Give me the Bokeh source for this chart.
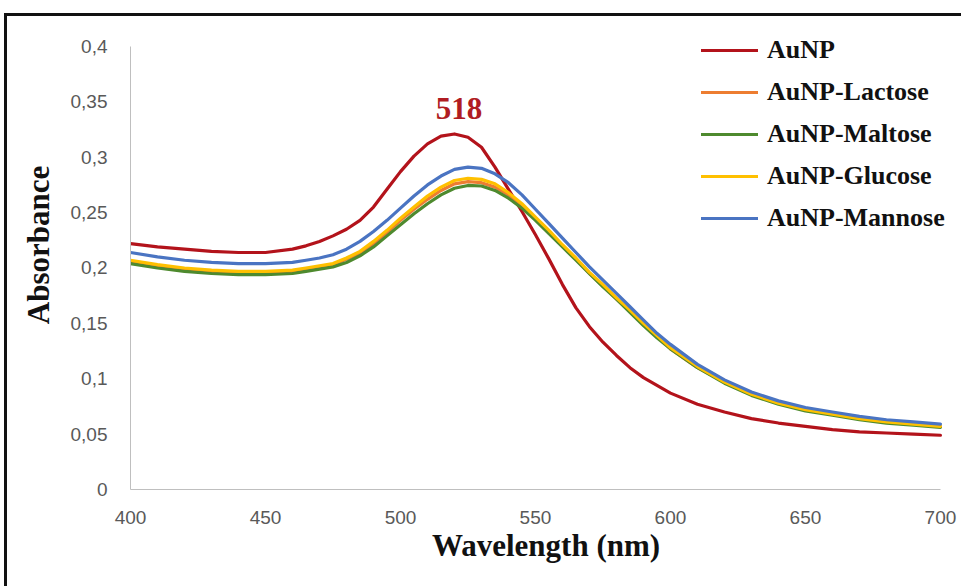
from bokeh.plotting import figure
from bokeh.models import Range1d, FixedTicker, Legend, LegendItem, Label
from bokeh.embed import file_html
from bokeh.resources import INLINE

# ---- data ----
wavelength = [400, 410, 420, 430, 440, 450, 460, 465, 470, 475, 480, 485, 490, 495, 500,
              505, 510, 515, 520, 525, 530, 535, 540, 545, 550, 555, 560, 565, 570, 575,
              580, 585, 590, 595, 600, 610, 620, 630, 640, 650, 660, 670, 680, 690, 700]

aunp = [0.222, 0.219, 0.217, 0.215, 0.214, 0.214, 0.217, 0.220, 0.224, 0.229, 0.235, 0.243,
        0.255, 0.271, 0.287, 0.301, 0.312, 0.319, 0.321, 0.318, 0.309, 0.291, 0.271, 0.251,
        0.230, 0.208, 0.185, 0.164, 0.147, 0.133, 0.121, 0.110, 0.101, 0.094, 0.087, 0.077,
        0.070, 0.064, 0.060, 0.057, 0.054, 0.052, 0.051, 0.050, 0.049]

aunp_lactose = [0.206, 0.202, 0.199, 0.197, 0.196, 0.196, 0.197, 0.199, 0.201, 0.203, 0.208,
                0.213, 0.222, 0.232, 0.243, 0.253, 0.262, 0.270, 0.276, 0.278, 0.277, 0.273,
                0.266, 0.256, 0.245, 0.233, 0.220, 0.208, 0.195, 0.184, 0.172, 0.161, 0.149,
                0.138, 0.127, 0.110, 0.097, 0.086, 0.078, 0.072, 0.068, 0.064, 0.061, 0.059,
                0.057]

aunp_maltose = [0.204, 0.200, 0.197, 0.195, 0.194, 0.194, 0.195, 0.197, 0.199, 0.201, 0.205,
                0.211, 0.219, 0.229, 0.239, 0.249, 0.258, 0.266, 0.272, 0.2745, 0.274, 0.270,
                0.263, 0.254, 0.243, 0.231, 0.219, 0.207, 0.195, 0.183, 0.172, 0.160, 0.148,
                0.137, 0.127, 0.110, 0.096, 0.085, 0.077, 0.071, 0.067, 0.063, 0.060, 0.058,
                0.056]

aunp_glucose = [0.207, 0.203, 0.200, 0.198, 0.197, 0.197, 0.198, 0.200, 0.202, 0.204, 0.209,
                0.215, 0.224, 0.234, 0.245, 0.255, 0.265, 0.273, 0.279, 0.281, 0.280, 0.276,
                0.268, 0.258, 0.246, 0.234, 0.221, 0.209, 0.196, 0.185, 0.173, 0.162, 0.150,
                0.139, 0.128, 0.111, 0.097, 0.086, 0.078, 0.072, 0.068, 0.064, 0.061, 0.059,
                0.057]

aunp_mannose = [0.214, 0.210, 0.207, 0.205, 0.204, 0.204, 0.205, 0.207, 0.209, 0.212, 0.217,
                0.224, 0.233, 0.243, 0.254, 0.265, 0.275, 0.283, 0.289, 0.291, 0.290, 0.285,
                0.277, 0.266, 0.253, 0.240, 0.227, 0.214, 0.201, 0.189, 0.177, 0.165, 0.153,
                0.141, 0.131, 0.113, 0.099, 0.088, 0.080, 0.074, 0.070, 0.066, 0.063, 0.061,
                0.059]

series_names = ["AuNP", "AuNP-Lactose", "AuNP-Maltose", "AuNP-Glucose", "AuNP-Mannose"]
series_values = [aunp, aunp_lactose, aunp_maltose, aunp_glucose, aunp_mannose]
series_colors = ["#B3131B", "#ED7D31", "#4E8A2E", "#FFC000", "#4A74C2"]

x_ticks = [400, 450, 500, 550, 600, 650, 700]
y_ticks = [0, 0.05, 0.1, 0.15, 0.2, 0.25, 0.3, 0.35, 0.4]
y_tick_labels = ["0", "0,05", "0,1", "0,15", "0,2", "0,25", "0,3", "0,35", "0,4"]

peak_wavelength = 518
peak_absorbance = 0.321
peak_label = "518"

# ---- figure ----
# The plotting frame is extended to the right/top canvas edges (so the legend is not
# clipped); the axes themselves are bounded to 400-700 nm and 0-0.4.
p = figure(width=961, height=586, title=None,
           x_range=Range1d(400, 707.8), y_range=Range1d(0, 0.4415),
           output_backend="svg", toolbar_location=None,
           min_border_left=130, min_border_right=0, min_border_top=0, min_border_bottom=97)
p.outline_line_color = None
p.background_fill_alpha = 0
p.border_fill_alpha = 0
p.grid.visible = False
# outer black frame of the chart (top and left edges are visible in the reference)
p.styles = {
    "background": ("linear-gradient(#111,#111) 4px 13px / 960px 3px no-repeat, "
                   "linear-gradient(#111,#111) 4px 13px / 3px 600px no-repeat, white"),
}

renderers = []
for name, vals, col in zip(series_names, series_values, series_colors):
    r = p.line(wavelength, vals, line_color=col, line_width=3.2,
               line_join="round", line_cap="round")
    renderers.append(r)

# axes
for ax in (p.xaxis[0], p.yaxis[0]):
    ax.axis_line_color = "#BFBFBF"
    ax.axis_line_width = 1
    ax.major_tick_line_color = None
    ax.minor_tick_line_color = None
    ax.major_label_text_font = "Liberation Sans"
    ax.major_label_text_font_size = "19px"
    ax.major_label_text_color = "#595959"
    ax.axis_label_text_font = "Liberation Serif"
    ax.axis_label_text_font_style = "bold"
    ax.axis_label_text_font_size = "31px"
    ax.axis_label_text_color = "#111111"

p.xaxis.bounds = (x_ticks[0], x_ticks[-1])
p.yaxis.bounds = (y_ticks[0], y_ticks[-1])
p.xaxis.ticker = FixedTicker(ticks=x_ticks)
p.yaxis.ticker = FixedTicker(ticks=y_ticks)
p.yaxis.major_label_overrides = dict(zip(y_ticks, y_tick_labels))
p.xaxis.major_label_standoff = 15
p.yaxis.major_label_standoff = 17
p.xaxis.axis_label = "Wavelength (nm)"
p.yaxis.axis_label = "Absorbance"
p.xaxis.axis_label_standoff = 1
p.yaxis.axis_label_standoff = 12

# peak annotation
p.add_layout(Label(x=peak_wavelength, y=peak_absorbance, x_offset=10, y_offset=25,
                   text=peak_label, text_align="center", text_baseline="alphabetic",
                   text_font="Liberation Serif", text_font_style="bold",
                   text_font_size="31px", text_color="#B01C22"))

# legend
legend = Legend(items=[LegendItem(label=n, renderers=[r]) for n, r in zip(series_names, renderers)],
                location=(571, 256), padding=0, spacing=12, margin=0,
                glyph_width=57, glyph_height=30, label_height=30, label_standoff=9,
                border_line_color=None, background_fill_alpha=0,
                label_text_font="Liberation Serif", label_text_font_style="bold",
                label_text_font_size="26px", label_text_color="#111111")
p.add_layout(legend)

open("out.html", "w").write(file_html(p, INLINE))
